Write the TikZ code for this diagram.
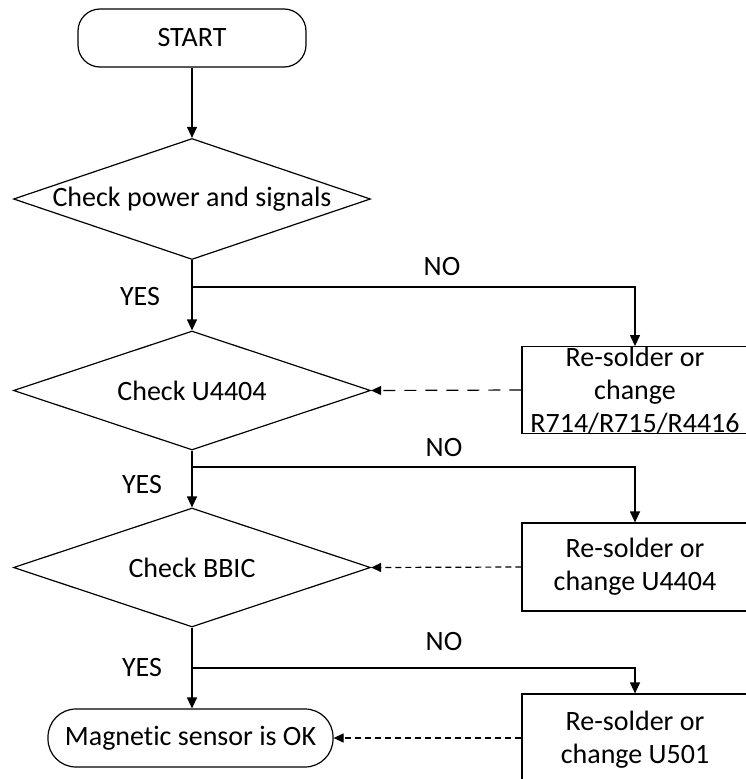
\documentclass[tikz,border=0pt]{standalone}
\usepackage{fontspec}
\setmainfont{Carlito}[RawFeature={-liga;-dlig;-clig}]
\usetikzlibrary{shapes.geometric,arrows.meta}
\begin{document}
\begin{tikzpicture}[x=1pt,y=-1pt,line width=1.2pt,
  every node/.style={font=\fontsize{28}{33}\selectfont},
  term/.style={draw,rounded corners=#1,inner sep=0},
  dia/.style={draw,diamond,inner sep=0,minimum width=357pt,minimum height=121pt},
  fixbox/.style={draw,inner sep=0,minimum width=226pt,align=center},
  txt/.style={inner sep=0},
  arr/.style={-{Triangle[length=11pt,width=10pt]}},
  darrA/.style={-{Triangle[length=10pt,width=9pt]},dash pattern=on 12pt off 9pt},
  darrB/.style={-{Triangle[length=10pt,width=9pt]},dash pattern=on 6pt off 4pt}]
\useasboundingbox (0,0) rectangle (745,779);
% nodes
\node[term=22pt,minimum width=228pt,minimum height=58pt] (start) at (192,38) {START};
\node[dia] (d1) at (192,199) {};
\node[txt] (t1) at (d1.center) {Check power and signals};
\node[dia,minimum height=119pt] (d2) at (192,390.5) {};
\node[txt] (t2) at (d2.center) {Check U4404};
\node[dia,minimum height=119pt] (d3) at (192,567.5) {};
\node[txt] (t3) at (d3.center) {Check BBIC};
\node[term=28pt,minimum width=285pt,minimum height=58pt] (ok) at (190.5,738) {Magnetic sensor is OK};
\node[fixbox,minimum height=86pt] (b1) at (635,390) {Re-solder or\\change\\R714/R715/R4416};
\node[fixbox,minimum height=88pt] (b2) at (635,567) {Re-solder or\\change U4404};
\node[fixbox,minimum height=92pt] (b3) at (635,740) {Re-solder or\\change U501};
% junctions
\coordinate (j1) at (192,287);
\coordinate (j2) at (192,467);
\coordinate (j3) at (192,668);
% connectors
\draw[arr] (start.south) -- (d1.north);
\draw (d1.south) -- (j1);
\draw[arr] (j1) -- (d2.north);
\draw[arr] (j1) -| (b1.north);
\draw (d2.south) -- (j2);
\draw[arr] (j2) -- (d3.north);
\draw[arr] (j2) -| (b2.north);
\draw (d3.south) -- (j3);
\draw[arr] (j3) -- (ok.north -| j3);
\draw[arr] (j3) -| (b3.north);
\draw[darrA] (b1.west) -- (d2.east);
\draw[darrB] (b2.west) -- (d3.east);
\draw[darrB] (b3.west |- ok.east) -- (ok.east);
% labels
\node (no1) at (442,267) {NO};
\node (yes1) at (140,297) {YES};
\node (no2) at (444,448) {NO};
\node (yes2) at (142,485) {YES};
\node (no3) at (444,642) {NO};
\node (yes3) at (142,668) {YES};
\end{tikzpicture}
\end{document}
